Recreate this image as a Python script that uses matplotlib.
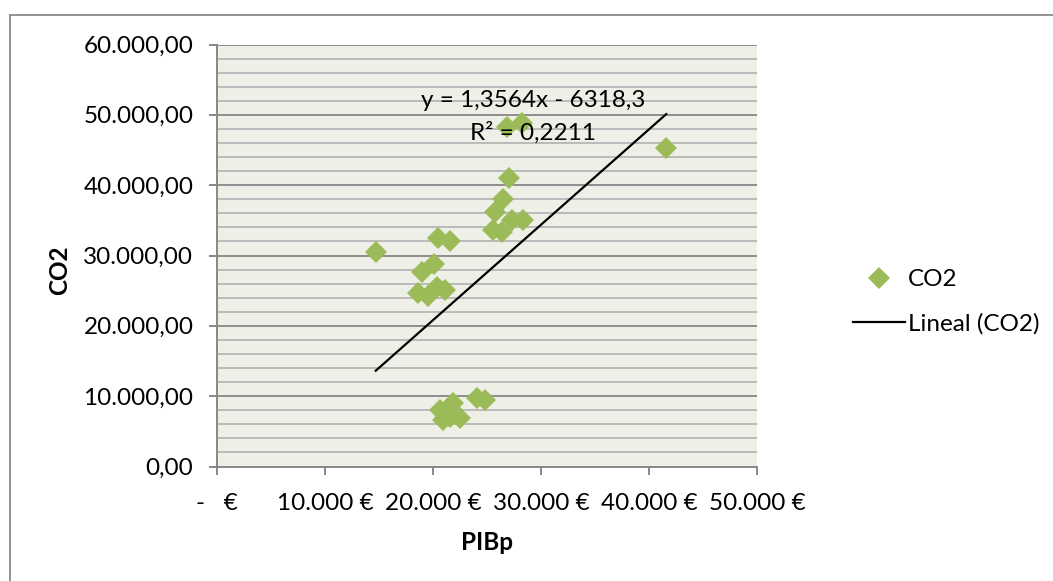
import matplotlib
matplotlib.use("Agg")
import matplotlib.pyplot as plt
from matplotlib.lines import Line2D
from matplotlib.ticker import MultipleLocator, FixedLocator, FixedFormatter

plt.rcParams['font.family'] = ['Lato', 'DejaVu Sans']

# GDP per capita (EUR) and CO2 for each observation
pib = [14700, 41600, 26820, 28210, 27060, 26510, 25740, 27290, 28360,
       25580, 26360, 20490, 21570, 18950, 20090, 18610, 19540, 20370,
       21110, 20650, 21270, 21880, 21570, 22500, 24050, 24810, 20950]
co2 = [30460, 45240, 48320, 48800, 40980, 37990, 36230, 35050, 35050,
       33630, 33390, 32450, 32110, 27700, 28790, 24670, 24240, 25520,
       25100, 8030, 7790, 8990, 7080, 6850, 9700, 9460, 6610]

# Linear trend fitted to the series
slope = 1.3564
intercept = -6318.3
r_squared = 0.2211

y_ticks = [0, 10000, 20000, 30000, 40000, 50000, 60000]
y_tick_labels = ["0,00", "10.000,00", "20.000,00", "30.000,00",
                 "40.000,00", "50.000,00", "60.000,00"]
x_ticks = [0, 10000, 20000, 30000, 40000, 50000]
x_tick_labels = ["-   €", "10.000 €", "20.000 €", "30.000 €",
                 "40.000 €", "50.000 €"]

FS = 17.5
W, H = 1053, 581
fig = plt.figure(figsize=(W / 100, H / 100), dpi=100)
fig.patch.set_facecolor('white')

# outer chart frame
frame_col = '#8A8A8A'
fig.add_artist(Line2D([10 / W, 10 / W], [0, 1 - 15 / H], transform=fig.transFigure,
                      color=frame_col, lw=1.3))
fig.add_artist(Line2D([10 / W, 1.0], [1 - 15 / H, 1 - 15 / H], transform=fig.transFigure,
                      color=frame_col, lw=1.3))

left, right, top, bottom = 217, 757, 44.5, 466.5
ax = fig.add_axes([left / W, 1 - bottom / H, (right - left) / W, (bottom - top) / H])
ax.set_facecolor('#EEF0E7')
ax.set_xlim(0, 50000)
ax.set_ylim(0, 60000)

ax.yaxis.set_major_locator(FixedLocator(y_ticks))
ax.yaxis.set_major_formatter(FixedFormatter(y_tick_labels))
ax.yaxis.set_minor_locator(MultipleLocator(2000))
ax.xaxis.set_major_locator(FixedLocator(x_ticks))
ax.xaxis.set_major_formatter(FixedFormatter(x_tick_labels))

ax.grid(which='minor', axis='y', color='#BABABA', lw=1.4)
ax.grid(which='major', axis='y', color='#8E8E8E', lw=1.4)
ax.set_axisbelow(True)

for s in ('top', 'right'):
    ax.spines[s].set_visible(False)
for s in ('left', 'bottom'):
    ax.spines[s].set_color('#878787')
    ax.spines[s].set_linewidth(1.4)

ax.tick_params(axis='both', which='major', direction='out', length=6, width=1.4,
               color='#878787', labelsize=FS, labelcolor='black')
ax.tick_params(axis='y', which='major', pad=11)
ax.tick_params(axis='x', which='major', pad=13)
ax.tick_params(which='minor', length=0)

ax.plot(pib, co2, linestyle='none', marker='D', markersize=11.7,
        markeredgewidth=0, color='#9BBB59', zorder=3, clip_on=False)

x_line = [min(pib), max(pib)]
ax.plot(x_line, [slope * x + intercept for x in x_line], color='black', lw=1.6, zorder=4)

eq = "y = {:.4f}x - {:.1f}".format(slope, abs(intercept)).replace('.', ',')
r2 = "R² = {:.4f}".format(r_squared).replace('.', ',')
ax.text(29250, 52100, eq, ha='center', va='center', fontsize=FS, zorder=5)
ax.text(29250, 47400, r2, ha='center', va='center', fontsize=FS, zorder=5)

fig.text(60 / W, 1 - 270 / H, 'CO2', rotation=90, ha='center', va='center',
         fontsize=FS, fontweight='bold')
fig.text(487 / W, 1 - 542 / H, 'PIBp', ha='center', va='center',
         fontsize=FS, fontweight='bold')

handles = [
    Line2D([], [], linestyle='none', marker='D', markersize=11.7,
           markeredgewidth=0, color='#9BBB59', label='CO2'),
    Line2D([], [], color='black', lw=1.6, label='Lineal (CO2)'),
]
fig.legend(handles=handles, loc='upper left', bbox_to_anchor=(853 / W, 1 - 269 / H),
           frameon=False, fontsize=FS, handlelength=2.14, handletextpad=0.12,
           labelspacing=0.95, borderaxespad=0, borderpad=0)

fig.savefig('out.png', dpi=100)
